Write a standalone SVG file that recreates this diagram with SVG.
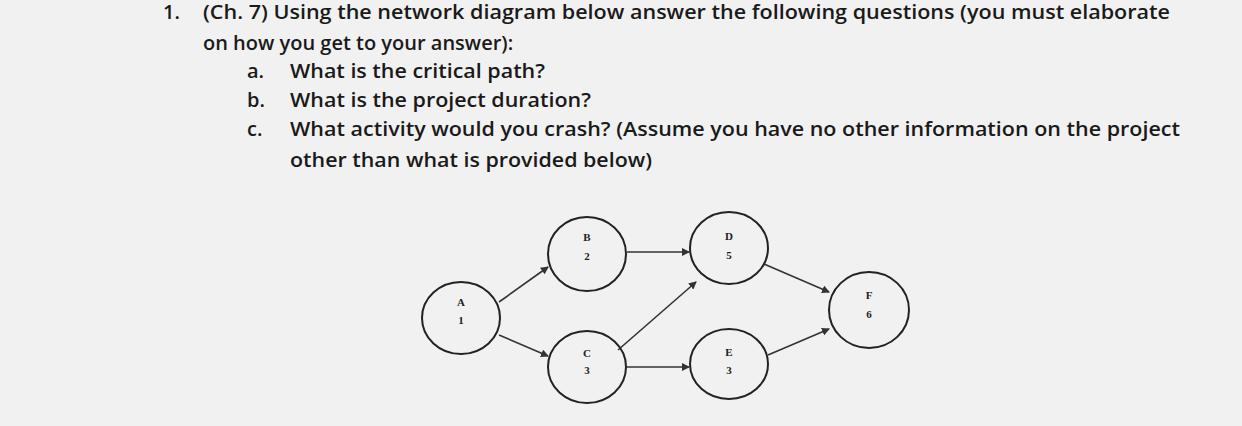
<svg xmlns="http://www.w3.org/2000/svg" width="1242" height="426" viewBox="0 0 1242 426">
<style>
.q{font-family:"Open Sans","Liberation Sans",sans-serif;font-size:20px;font-weight:600;fill:#1a1a1a}
.n{fill:none;stroke:#222;stroke-width:2}
.l{font-family:"Liberation Serif",serif;font-size:11px;font-weight:bold;fill:#222;text-anchor:middle}
.c{stroke:#333;stroke-width:1.6;fill:none;marker-end:url(#ah)}
</style>
<defs><marker id="ah" markerWidth="8" markerHeight="8" refX="7" refY="4" orient="auto" markerUnits="userSpaceOnUse"><path d="M0,0L8,4L0,8z" fill="#333"/></marker></defs>
<rect width="1242" height="426" fill="#f1f1f1"/>
<text class="q" x="163" y="19">1.</text>
<text class="q" x="203" y="19" textLength="967" lengthAdjust="spacingAndGlyphs">(Ch. 7) Using the network diagram below answer the following questions (you must elaborate</text>
<text class="q" x="203" y="50">on how you get to your answer):</text>
<text class="q" x="247" y="78">a.</text><text class="q" x="290" y="78" textLength="255" lengthAdjust="spacingAndGlyphs">What is the critical path?</text>
<text class="q" x="247" y="107">b.</text><text class="q" x="290" y="107" textLength="301" lengthAdjust="spacingAndGlyphs">What is the project duration?</text>
<text class="q" x="247" y="136">c.</text><text class="q" x="290" y="136" textLength="890" lengthAdjust="spacingAndGlyphs">What activity would you crash? (Assume you have no other information on the project</text>
<text class="q" x="290" y="167" textLength="362" lengthAdjust="spacingAndGlyphs">other than what is provided below)</text>
<g id="connectors">
<path class="c" d="M499,302L548,267"/>
<path class="c" d="M499,335L548,356"/>
<path class="c" d="M627,252L689,252"/>
<path class="c" d="M618,350L696,282"/>
<path class="c" d="M627,367L689,367"/>
<path class="c" d="M764,264L829,292"/>
<path class="c" d="M768,355L829,329"/>
</g>
<g id="A"><ellipse class="n" cx="461" cy="318" rx="39" ry="36"/><text class="l" x="461" y="306">A</text><text class="l" x="461" y="324">1</text></g>
<g id="B"><ellipse class="n" cx="587" cy="254" rx="39" ry="37"/><text class="l" x="587" y="241">B</text><text class="l" x="587" y="260">2</text></g>
<g id="C"><ellipse class="n" cx="587" cy="367" rx="39" ry="36"/><text class="l" x="587" y="357">C</text><text class="l" x="587" y="374">3</text></g>
<g id="D"><ellipse class="n" cx="729" cy="248" rx="39" ry="36"/><text class="l" x="729" y="240">D</text><text class="l" x="729" y="259">5</text></g>
<g id="E"><ellipse class="n" cx="729" cy="364" rx="39" ry="35"/><text class="l" x="729" y="356">E</text><text class="l" x="729" y="374">3</text></g>
<g id="F"><ellipse class="n" cx="869" cy="310" rx="40" ry="38"/><text class="l" x="869" y="299">F</text><text class="l" x="869" y="318">6</text></g>
</svg>
